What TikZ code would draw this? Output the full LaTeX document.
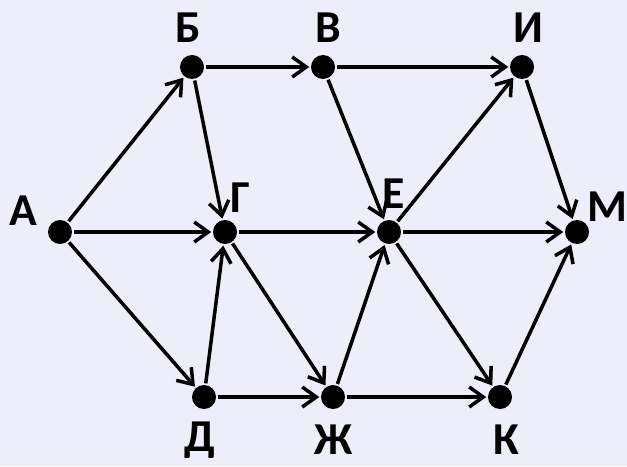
\documentclass[tikz,border=0pt]{standalone}
\usepackage{fontspec}
\setmainfont{Carlito}
\usetikzlibrary{arrows.meta}
\definecolor{bgpaper}{RGB}{238,238,250}
\begin{document}
\begin{tikzpicture}[x=1cm,y=1cm,>={Straight Barb[length=2.8mm,width=4mm]},line width=2pt,
  font=\fontsize{26}{28}\selectfont\bfseries,
  vert/.style={circle,fill=black,inner sep=0pt,minimum size=0.48cm},
  lab/.style={inner sep=0pt}]
  \fill[bgpaper] (0,0) rectangle (12.54,9.32);
  \useasboundingbox (0,0) rectangle (12.54,9.32);
  % vertices
  \node[vert] (a) at (1.2,4.68) {};
  \node[vert] (b) at (3.84,7.98) {};
  \node[vert] (v) at (6.46,7.98) {};
  \node[vert] (i) at (10.44,7.98) {};
  \node[vert] (g) at (4.5,4.68) {};
  \node[vert] (e) at (7.78,4.68) {};
  \node[vert] (m) at (11.54,4.68) {};
  \node[vert] (d) at (4.08,1.38) {};
  \node[vert] (zh) at (6.66,1.38) {};
  \node[vert] (k) at (10.0,1.38) {};
  % names
  \node[lab] (la) at (0.46,5.1) {А};
  \node[lab] (lb) at (3.76,8.76) {Б};
  \node[lab] (lv) at (6.56,8.76) {В};
  \node[lab] (li) at (10.56,8.76) {И};
  \node[lab] (lg) at (4.8,5.36) {Г};
  \node[lab] (le) at (7.88,5.44) {Е};
  \node[lab] (lm) at (12.14,5.18) {М};
  \node[lab] (ld) at (4.0,0.52) {Д};
  \node[lab] (lzh) at (6.68,0.52) {Ж};
  \node[lab] (lk) at (10.12,0.52) {К};
  % arcs
  \foreach \s/\t in {a/b,a/g,a/d,b/v,b/g,v/i,v/e,i/m,g/e,g/zh,d/g,d/zh,zh/e,zh/k,e/i,e/m,e/k,k/m}
    \draw[->] (\s)--(\t);
\end{tikzpicture}
\end{document}
